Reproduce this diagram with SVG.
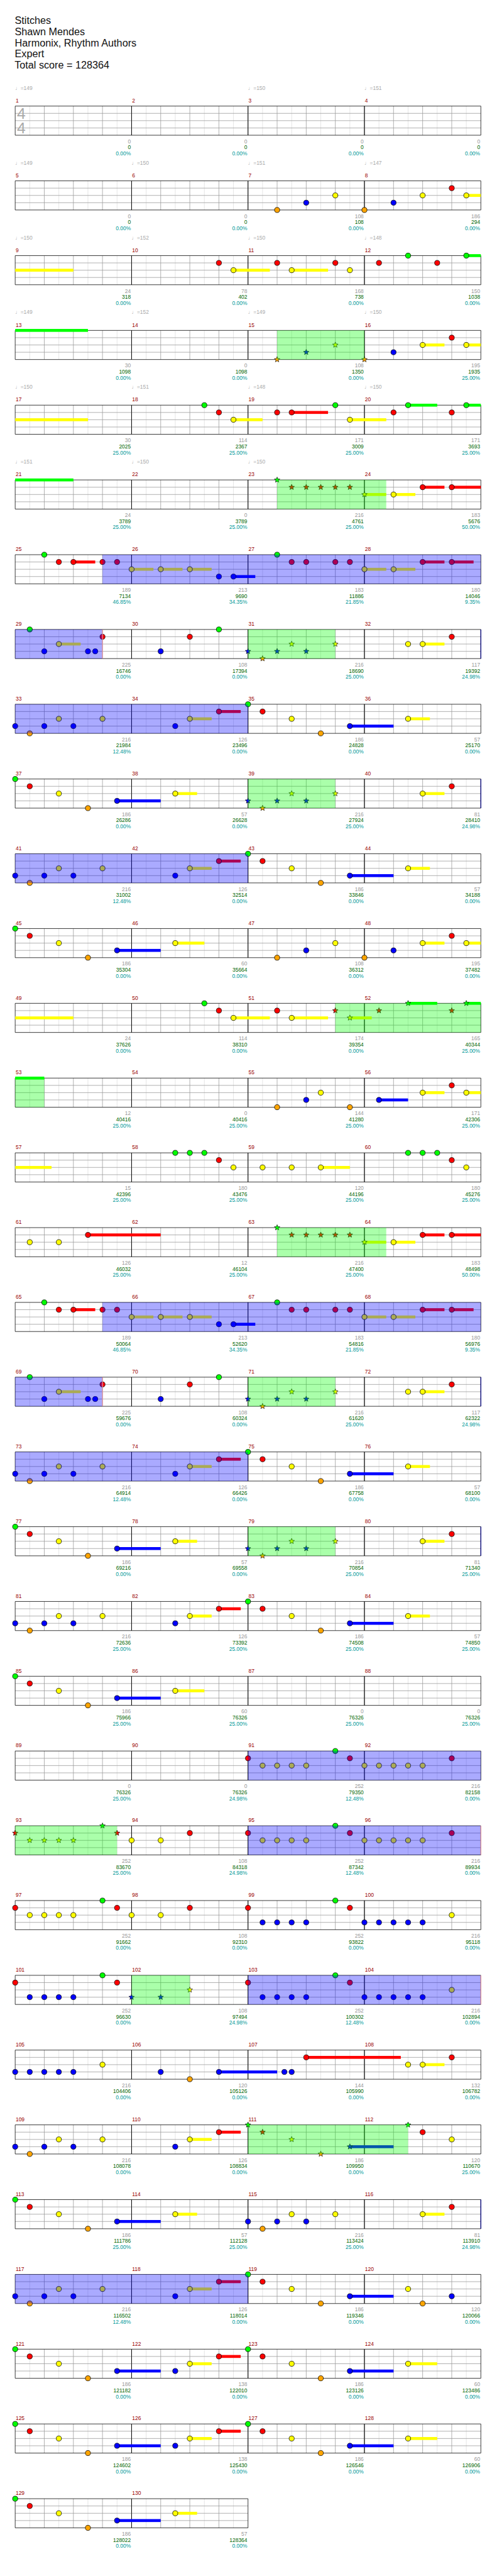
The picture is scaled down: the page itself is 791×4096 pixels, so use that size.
<svg xmlns="http://www.w3.org/2000/svg" xmlns:xlink="http://www.w3.org/1999/xlink" width="791" height="4096" viewBox="0 0 791 4096">
<style>
text{font-family:"Liberation Sans","DejaVu Sans",Arial,sans-serif}
.ti{font-size:21px;fill:#111}
.big{font-size:32px;fill:#aaa}
.tp{font-size:11px;fill:#aaa}
.mn{font-size:11px;fill:#900}
.c1{font-size:11px;fill:#999;text-anchor:end}
.c2{font-size:11px;fill:#060;text-anchor:end}
.c3{font-size:11px;fill:#099;text-anchor:end}
.lt{stroke:#ddd;stroke-width:1;fill:none}
.gr{stroke:#999;stroke-width:1;fill:none}
.bk{stroke:#000;stroke-width:1;fill:none}
.sy{fill:#ff0}.sr{fill:#f00}.sg{fill:#0f0}.sb{fill:#00f}
.so{fill:#00f;fill-opacity:.333}
.sp{fill:#0f0;fill-opacity:.333}
.st{stroke:#008;stroke-width:1.5}
.en{stroke:#e99;stroke-width:1.5}
</style>
<defs>
<circle id="G" r="5.3" fill="#00ff00" stroke="#000" stroke-width="1"/>
<circle id="R" r="5.3" fill="#ff0000" stroke="#000" stroke-width="1"/>
<circle id="Y" r="5.3" fill="#ffff00" stroke="#000" stroke-width="1"/>
<circle id="B" r="5.3" fill="#0000ff" stroke="#000" stroke-width="1"/>
<circle id="O" r="5.3" fill="#ffa500" stroke="#000" stroke-width="1"/>
<polygon id="sG" points="0,-6 1.53,-2.1 5.71,-1.85 2.47,0.8 3.53,4.85 0,2.6 -3.53,4.85 -2.47,0.8 -5.71,-1.85 -1.53,-2.1" fill="#00ff00" stroke="#000" stroke-width=".8"/>
<polygon id="sR" points="0,-6 1.53,-2.1 5.71,-1.85 2.47,0.8 3.53,4.85 0,2.6 -3.53,4.85 -2.47,0.8 -5.71,-1.85 -1.53,-2.1" fill="#ff0000" stroke="#000" stroke-width=".8"/>
<polygon id="sY" points="0,-6 1.53,-2.1 5.71,-1.85 2.47,0.8 3.53,4.85 0,2.6 -3.53,4.85 -2.47,0.8 -5.71,-1.85 -1.53,-2.1" fill="#ffff00" stroke="#000" stroke-width=".8"/>
<polygon id="sB" points="0,-6 1.53,-2.1 5.71,-1.85 2.47,0.8 3.53,4.85 0,2.6 -3.53,4.85 -2.47,0.8 -5.71,-1.85 -1.53,-2.1" fill="#0000ff" stroke="#000" stroke-width=".8"/>
<polygon id="sO" points="0,-6 1.53,-2.1 5.71,-1.85 2.47,0.8 3.53,4.85 0,2.6 -3.53,4.85 -2.47,0.8 -5.71,-1.85 -1.53,-2.1" fill="#ffa500" stroke="#000" stroke-width=".8"/>
<g id="M">
<path class="lt" d="M30 0V60M90 0V60M150 0V60M210 0V60"/>
<path class="gr" d="M0 15H240M0 30H240M0 45H240M60 0V60M120 0V60M180 0V60"/>
<path class="bk" d="M0 0H240M0 60H240M0 0V60M240 0V60"/>
</g>
<g id="M4"><use href="#M"/><use href="#M" x="240"/><use href="#M" x="480"/><use href="#M" x="720"/></g>
<g id="M2"><use href="#M"/><use href="#M" x="240"/></g>
<g id="stars1">
<use href="#sB" x="480" y="45"/><use href="#sO" x="510" y="60"/><use href="#sB" x="540" y="45"/><use href="#sY" x="570" y="30"/><use href="#sB" x="600" y="45"/><use href="#sY" x="660" y="30"/>
</g>
<g id="pA">
<rect class="sr" x="120" y="12" width="45" height="6"/><rect class="sy" x="240" y="27" width="45" height="6"/><rect class="sy" x="300" y="27" width="45" height="6"/><rect class="sy" x="360" y="27" width="45" height="6"/><rect class="sb" x="450" y="42" width="45" height="6"/><rect class="sy" x="720" y="27" width="45" height="6"/><rect class="sy" x="780" y="27" width="45" height="6"/><rect class="sr" x="840" y="12" width="45" height="6"/><rect class="sr" x="900" y="12" width="45" height="6"/>
<use href="#G" x="60" y="0"/><use href="#R" x="90" y="15"/><use href="#R" x="120" y="15"/><use href="#R" x="180" y="15"/><use href="#R" x="210" y="15"/><use href="#Y" x="240" y="30"/><use href="#Y" x="300" y="30"/><use href="#Y" x="360" y="30"/><use href="#B" x="420" y="45"/><use href="#B" x="450" y="45"/><use href="#G" x="540" y="0"/><use href="#R" x="570" y="15"/><use href="#R" x="600" y="15"/><use href="#R" x="660" y="15"/><use href="#R" x="690" y="15"/><use href="#Y" x="720" y="30"/><use href="#Y" x="780" y="30"/><use href="#R" x="840" y="15"/><use href="#R" x="900" y="15"/>
<rect class="so" x="180" y="0" width="780" height="60"/>
</g>
<g id="pB">
<rect class="sy" x="90" y="27" width="45" height="6"/><rect class="sy" x="840" y="27" width="45" height="6"/>
<use href="#G" x="30" y="0"/><use href="#B" x="60" y="45"/><use href="#Y" x="90" y="30"/><use href="#B" x="150" y="45"/><use href="#B" x="165" y="45"/><use href="#R" x="180" y="15"/><use href="#B" x="300" y="45"/><use href="#R" x="360" y="15"/><use href="#G" x="420" y="0"/><use href="#Y" x="810" y="30"/><use href="#Y" x="840" y="30"/><use href="#R" x="900" y="15"/>
<use href="#stars1"/>
<rect class="so" x="0" y="0" width="180" height="60"/><rect class="sp" x="480" y="0" width="180" height="60"/>
<path class="en" d="M180 0V60"/><path class="st" d="M960 0V60"/>
</g>
<g id="pCn">
<rect class="sy" x="360" y="27" width="45" height="6"/><rect class="sr" x="420" y="12" width="45" height="6"/><rect class="sb" x="690" y="42" width="90" height="6"/><rect class="sy" x="810" y="27" width="45" height="6"/>
<use href="#B" x="0" y="45"/><use href="#O" x="30" y="60"/><use href="#B" x="60" y="45"/><use href="#Y" x="90" y="30"/><use href="#B" x="120" y="45"/><use href="#Y" x="180" y="30"/><use href="#B" x="330" y="45"/><use href="#Y" x="360" y="30"/><use href="#R" x="420" y="15"/><use href="#G" x="480" y="0"/><use href="#R" x="510" y="15"/><use href="#Y" x="570" y="30"/><use href="#O" x="630" y="60"/><use href="#B" x="690" y="45"/><use href="#Y" x="810" y="30"/>
</g>
<g id="pC"><use href="#pCn"/><rect class="so" x="0" y="0" width="480" height="60"/></g>
<g id="pD">
<rect class="sb" x="210" y="42" width="90" height="6"/><rect class="sy" x="330" y="27" width="45" height="6"/><rect class="sy" x="840" y="27" width="45" height="6"/>
<use href="#G" x="0" y="0"/><use href="#R" x="30" y="15"/><use href="#Y" x="90" y="30"/><use href="#O" x="150" y="60"/><use href="#B" x="210" y="45"/><use href="#Y" x="330" y="30"/><use href="#Y" x="840" y="30"/><use href="#R" x="900" y="15"/>
<use href="#stars1"/>
<rect class="sp" x="480" y="0" width="180" height="60"/>
<path class="st" d="M960 0V60"/>
</g>
<g id="pE">
<use href="#R" x="480" y="15"/><use href="#Y" x="510" y="30"/><use href="#Y" x="540" y="30"/><use href="#Y" x="570" y="30"/><use href="#Y" x="600" y="30"/><use href="#G" x="660" y="0"/><use href="#R" x="690" y="15"/><use href="#Y" x="720" y="30"/><use href="#Y" x="750" y="30"/><use href="#Y" x="780" y="30"/><use href="#Y" x="810" y="30"/><use href="#Y" x="840" y="30"/><use href="#R" x="900" y="15"/>
<rect class="so" x="480" y="0" width="480" height="60"/>
</g>
<g id="pF">
<use href="#R" x="480" y="15"/><use href="#B" x="510" y="45"/><use href="#B" x="540" y="45"/><use href="#B" x="570" y="45"/><use href="#B" x="600" y="45"/><use href="#G" x="660" y="0"/><use href="#R" x="690" y="15"/><use href="#B" x="720" y="45"/><use href="#B" x="750" y="45"/><use href="#B" x="780" y="45"/><use href="#B" x="810" y="45"/><use href="#B" x="840" y="45"/><use href="#Y" x="900" y="30"/>
</g>
<g id="pI">
<rect class="sb" x="210" y="42" width="90" height="6"/>
<use href="#G" x="0" y="0"/><use href="#R" x="30" y="15"/><use href="#Y" x="90" y="30"/><use href="#O" x="150" y="60"/><use href="#B" x="210" y="45"/>
</g>
<g id="pG">
<use href="#pI"/>
<rect class="sy" x="360" y="27" width="45" height="6"/><rect class="sr" x="420" y="12" width="45" height="6"/><rect class="sb" x="690" y="42" width="90" height="6"/><rect class="sy" x="810" y="27" width="60" height="6"/>
<use href="#B" x="330" y="45"/><use href="#Y" x="360" y="30"/><use href="#R" x="420" y="15"/><use href="#G" x="480" y="0"/><use href="#R" x="510" y="15"/><use href="#Y" x="570" y="30"/><use href="#O" x="630" y="60"/><use href="#B" x="690" y="45"/><use href="#Y" x="810" y="30"/>
</g>
</defs>
<g transform="scale(0.772)">
<g id="title">
<text class="ti" x="30.5" y="49.5">Stitches</text>
<text class="ti" x="30.5" y="72.5">Shawn Mendes</text>
<text class="ti" x="30.5" y="95.5">Harmonix, Rhythm Authors</text>
<text class="ti" x="30.5" y="118.5">Expert</text>
<text class="ti" x="30" y="141.5">Total score = 128364</text>
</g>
<g id="chart" transform="translate(31.3,218.5)">

<g id="row-1">
<use href="#M4"/>
<text class="big" x="3.7" y="26.5">4</text><text class="big" x="3.7" y="56.5">4</text>
<text class="tp" x="0" y="-33.5">♩=149</text><text class="tp" x="480" y="-33.5">♩=150</text><text class="tp" x="720" y="-33.5">♩=151</text>
<text class="mn" x="1" y="-7.5">1</text><text class="mn" x="241" y="-7.5">2</text><text class="mn" x="481" y="-7.5">3</text><text class="mn" x="721" y="-7.5">4</text>
<text class="c1" x="238.5" y="76.5">0</text><text class="c2" x="238.5" y="89">0</text><text class="c3" x="238.5" y="101.5">0.00%</text>
<text class="c1" x="478.5" y="76.5">0</text><text class="c2" x="478.5" y="89">0</text><text class="c3" x="478.5" y="101.5">0.00%</text>
<text class="c1" x="718.5" y="76.5">0</text><text class="c2" x="718.5" y="89">0</text><text class="c3" x="718.5" y="101.5">0.00%</text>
<text class="c1" x="958.5" y="76.5">0</text><text class="c2" x="958.5" y="89">0</text><text class="c3" x="958.5" y="101.5">0.00%</text>
</g>

<g id="row-2" transform="translate(0,154)">
<use href="#M4"/>
<rect class="sy" x="930" y="27" width="30" height="6"/>
<use href="#O" x="540" y="60"/><use href="#B" x="600" y="45"/><use href="#Y" x="660" y="30"/><use href="#O" x="720" y="60"/><use href="#B" x="780" y="45"/><use href="#Y" x="840" y="30"/><use href="#R" x="900" y="15"/><use href="#Y" x="930" y="30"/>
<text class="tp" x="0" y="-33.5">♩=149</text><text class="tp" x="240" y="-33.5">♩=150</text><text class="tp" x="480" y="-33.5">♩=151</text><text class="tp" x="720" y="-33.5">♩=147</text>
<text class="mn" x="1" y="-7.5">5</text><text class="mn" x="241" y="-7.5">6</text><text class="mn" x="481" y="-7.5">7</text><text class="mn" x="721" y="-7.5">8</text>
<text class="c1" x="238.5" y="76.5">0</text><text class="c2" x="238.5" y="89">0</text><text class="c3" x="238.5" y="101.5">0.00%</text>
<text class="c1" x="478.5" y="76.5">0</text><text class="c2" x="478.5" y="89">0</text><text class="c3" x="478.5" y="101.5">0.00%</text>
<text class="c1" x="718.5" y="76.5">108</text><text class="c2" x="718.5" y="89">108</text><text class="c3" x="718.5" y="101.5">0.00%</text>
<text class="c1" x="958.5" y="76.5">186</text><text class="c2" x="958.5" y="89">294</text><text class="c3" x="958.5" y="101.5">0.00%</text>
</g>

<g id="row-3" transform="translate(0,308)">
<use href="#M4"/>
<rect class="sy" x="0" y="27" width="120" height="6"/><rect class="sy" x="450" y="27" width="75" height="6"/><rect class="sy" x="570" y="27" width="75" height="6"/><rect class="sg" x="930" y="-3" width="30" height="6"/>
<use href="#R" x="420" y="15"/><use href="#Y" x="450" y="30"/><use href="#R" x="540" y="15"/><use href="#Y" x="570" y="30"/><use href="#R" x="660" y="15"/><use href="#Y" x="690" y="30"/><use href="#R" x="750" y="15"/><use href="#G" x="810" y="0"/><use href="#R" x="870" y="15"/><use href="#G" x="930" y="0"/>
<text class="tp" x="0" y="-33.5">♩=150</text><text class="tp" x="240" y="-33.5">♩=152</text><text class="tp" x="480" y="-33.5">♩=150</text><text class="tp" x="720" y="-33.5">♩=148</text>
<text class="mn" x="1" y="-7.5">9</text><text class="mn" x="241" y="-7.5">10</text><text class="mn" x="481" y="-7.5">11</text><text class="mn" x="721" y="-7.5">12</text>
<text class="c1" x="238.5" y="76.5">24</text><text class="c2" x="238.5" y="89">318</text><text class="c3" x="238.5" y="101.5">0.00%</text>
<text class="c1" x="478.5" y="76.5">78</text><text class="c2" x="478.5" y="89">402</text><text class="c3" x="478.5" y="101.5">0.00%</text>
<text class="c1" x="718.5" y="76.5">168</text><text class="c2" x="718.5" y="89">738</text><text class="c3" x="718.5" y="101.5">0.00%</text>
<text class="c1" x="958.5" y="76.5">150</text><text class="c2" x="958.5" y="89">1038</text><text class="c3" x="958.5" y="101.5">0.00%</text>
</g>

<g id="row-4" transform="translate(0,462)">
<use href="#M4"/>
<rect class="sg" x="0" y="-3" width="150" height="6"/><rect class="sy" x="840" y="27" width="45" height="6"/><rect class="sy" x="930" y="27" width="30" height="6"/>
<use href="#sO" x="540" y="60"/><use href="#sB" x="600" y="45"/><use href="#sY" x="660" y="30"/><use href="#sO" x="720" y="60"/>
<use href="#B" x="780" y="45"/><use href="#Y" x="840" y="30"/><use href="#R" x="900" y="15"/><use href="#Y" x="930" y="30"/>
<rect class="sp" x="540" y="0" width="180" height="60"/>
<text class="tp" x="0" y="-33.5">♩=149</text><text class="tp" x="240" y="-33.5">♩=152</text><text class="tp" x="480" y="-33.5">♩=149</text><text class="tp" x="720" y="-33.5">♩=150</text>
<text class="mn" x="1" y="-7.5">13</text><text class="mn" x="241" y="-7.5">14</text><text class="mn" x="481" y="-7.5">15</text><text class="mn" x="721" y="-7.5">16</text>
<text class="c1" x="238.5" y="76.5">30</text><text class="c2" x="238.5" y="89">1098</text><text class="c3" x="238.5" y="101.5">0.00%</text>
<text class="c1" x="478.5" y="76.5">0</text><text class="c2" x="478.5" y="89">1098</text><text class="c3" x="478.5" y="101.5">0.00%</text>
<text class="c1" x="718.5" y="76.5">108</text><text class="c2" x="718.5" y="89">1350</text><text class="c3" x="718.5" y="101.5">0.00%</text>
<text class="c1" x="958.5" y="76.5">195</text><text class="c2" x="958.5" y="89">1935</text><text class="c3" x="958.5" y="101.5">25.00%</text>
</g>

<g id="row-5" transform="translate(0,616)">
<use href="#M4"/>
<rect class="sy" x="0" y="27" width="150" height="6"/><rect class="sy" x="450" y="27" width="60" height="6"/><rect class="sr" x="570" y="12" width="75" height="6"/><rect class="sy" x="690" y="27" width="75" height="6"/><rect class="sg" x="810" y="-3" width="60" height="6"/><rect class="sg" x="930" y="-3" width="30" height="6"/>
<use href="#G" x="390" y="0"/><use href="#R" x="420" y="15"/><use href="#Y" x="450" y="30"/><use href="#R" x="540" y="15"/><use href="#R" x="570" y="15"/><use href="#G" x="660" y="0"/><use href="#Y" x="690" y="30"/><use href="#R" x="780" y="15"/><use href="#G" x="810" y="0"/><use href="#R" x="900" y="15"/><use href="#G" x="930" y="0"/>
<text class="tp" x="0" y="-33.5">♩=150</text><text class="tp" x="240" y="-33.5">♩=151</text><text class="tp" x="480" y="-33.5">♩=148</text><text class="tp" x="720" y="-33.5">♩=150</text>
<text class="mn" x="1" y="-7.5">17</text><text class="mn" x="241" y="-7.5">18</text><text class="mn" x="481" y="-7.5">19</text><text class="mn" x="721" y="-7.5">20</text>
<text class="c1" x="238.5" y="76.5">30</text><text class="c2" x="238.5" y="89">2025</text><text class="c3" x="238.5" y="101.5">25.00%</text>
<text class="c1" x="478.5" y="76.5">114</text><text class="c2" x="478.5" y="89">2367</text><text class="c3" x="478.5" y="101.5">25.00%</text>
<text class="c1" x="718.5" y="76.5">171</text><text class="c2" x="718.5" y="89">3009</text><text class="c3" x="718.5" y="101.5">25.00%</text>
<text class="c1" x="958.5" y="76.5">171</text><text class="c2" x="958.5" y="89">3693</text><text class="c3" x="958.5" y="101.5">25.00%</text>
</g>

<g id="row-6" transform="translate(0,770)">
<use href="#M4"/>
<rect class="sg" x="0" y="-3" width="120" height="6"/><rect class="sy" x="720" y="27" width="45" height="6"/><rect class="sy" x="780" y="27" width="45" height="6"/><rect class="sr" x="840" y="12" width="45" height="6"/><rect class="sr" x="900" y="12" width="60" height="6"/>
<use href="#sG" x="540" y="0"/><use href="#sR" x="570" y="15"/><use href="#sR" x="600" y="15"/><use href="#sR" x="630" y="15"/><use href="#sR" x="660" y="15"/><use href="#sR" x="690" y="15"/><use href="#sY" x="720" y="30"/>
<use href="#Y" x="780" y="30"/><use href="#R" x="840" y="15"/><use href="#R" x="900" y="15"/>
<rect class="sp" x="540" y="0" width="225" height="60"/>
<text class="tp" x="0" y="-33.5">♩=151</text><text class="tp" x="240" y="-33.5">♩=150</text><text class="tp" x="480" y="-33.5">♩=150</text>
<text class="mn" x="1" y="-7.5">21</text><text class="mn" x="241" y="-7.5">22</text><text class="mn" x="481" y="-7.5">23</text><text class="mn" x="721" y="-7.5">24</text>
<text class="c1" x="238.5" y="76.5">24</text><text class="c2" x="238.5" y="89">3789</text><text class="c3" x="238.5" y="101.5">25.00%</text>
<text class="c1" x="478.5" y="76.5">0</text><text class="c2" x="478.5" y="89">3789</text><text class="c3" x="478.5" y="101.5">25.00%</text>
<text class="c1" x="718.5" y="76.5">216</text><text class="c2" x="718.5" y="89">4761</text><text class="c3" x="718.5" y="101.5">25.00%</text>
<text class="c1" x="958.5" y="76.5">183</text><text class="c2" x="958.5" y="89">5676</text><text class="c3" x="958.5" y="101.5">50.00%</text>
</g>

<g id="row-7" transform="translate(0,924)">
<use href="#M4"/><use href="#pA"/>
<text class="mn" x="1" y="-7.5">25</text><text class="mn" x="241" y="-7.5">26</text><text class="mn" x="481" y="-7.5">27</text><text class="mn" x="721" y="-7.5">28</text>
<text class="c1" x="238.5" y="76.5">189</text><text class="c2" x="238.5" y="89">7134</text><text class="c3" x="238.5" y="101.5">46.85%</text>
<text class="c1" x="478.5" y="76.5">213</text><text class="c2" x="478.5" y="89">9690</text><text class="c3" x="478.5" y="101.5">34.35%</text>
<text class="c1" x="718.5" y="76.5">183</text><text class="c2" x="718.5" y="89">11886</text><text class="c3" x="718.5" y="101.5">21.85%</text>
<text class="c1" x="958.5" y="76.5">180</text><text class="c2" x="958.5" y="89">14046</text><text class="c3" x="958.5" y="101.5">9.35%</text>
</g>

<g id="row-8" transform="translate(0,1078)">
<use href="#M4"/><use href="#pB"/>
<text class="mn" x="1" y="-7.5">29</text><text class="mn" x="241" y="-7.5">30</text><text class="mn" x="481" y="-7.5">31</text><text class="mn" x="721" y="-7.5">32</text>
<text class="c1" x="238.5" y="76.5">225</text><text class="c2" x="238.5" y="89">16746</text><text class="c3" x="238.5" y="101.5">0.00%</text>
<text class="c1" x="478.5" y="76.5">108</text><text class="c2" x="478.5" y="89">17394</text><text class="c3" x="478.5" y="101.5">0.00%</text>
<text class="c1" x="718.5" y="76.5">216</text><text class="c2" x="718.5" y="89">18690</text><text class="c3" x="718.5" y="101.5">25.00%</text>
<text class="c1" x="958.5" y="76.5">117</text><text class="c2" x="958.5" y="89">19392</text><text class="c3" x="958.5" y="101.5">24.98%</text>
</g>

<g id="row-9" transform="translate(0,1232)">
<use href="#M4"/><use href="#pC"/>
<text class="mn" x="1" y="-7.5">33</text><text class="mn" x="241" y="-7.5">34</text><text class="mn" x="481" y="-7.5">35</text><text class="mn" x="721" y="-7.5">36</text>
<text class="c1" x="238.5" y="76.5">216</text><text class="c2" x="238.5" y="89">21984</text><text class="c3" x="238.5" y="101.5">12.48%</text>
<text class="c1" x="478.5" y="76.5">126</text><text class="c2" x="478.5" y="89">23496</text><text class="c3" x="478.5" y="101.5">0.00%</text>
<text class="c1" x="718.5" y="76.5">186</text><text class="c2" x="718.5" y="89">24828</text><text class="c3" x="718.5" y="101.5">0.00%</text>
<text class="c1" x="958.5" y="76.5">57</text><text class="c2" x="958.5" y="89">25170</text><text class="c3" x="958.5" y="101.5">0.00%</text>
</g>

<g id="row-10" transform="translate(0,1386)">
<use href="#M4"/><use href="#pD"/>
<text class="mn" x="1" y="-7.5">37</text><text class="mn" x="241" y="-7.5">38</text><text class="mn" x="481" y="-7.5">39</text><text class="mn" x="721" y="-7.5">40</text>
<text class="c1" x="238.5" y="76.5">186</text><text class="c2" x="238.5" y="89">26286</text><text class="c3" x="238.5" y="101.5">0.00%</text>
<text class="c1" x="478.5" y="76.5">57</text><text class="c2" x="478.5" y="89">26628</text><text class="c3" x="478.5" y="101.5">0.00%</text>
<text class="c1" x="718.5" y="76.5">216</text><text class="c2" x="718.5" y="89">27924</text><text class="c3" x="718.5" y="101.5">25.00%</text>
<text class="c1" x="958.5" y="76.5">81</text><text class="c2" x="958.5" y="89">28410</text><text class="c3" x="958.5" y="101.5">24.98%</text>
</g>

<g id="row-11" transform="translate(0,1540)">
<use href="#M4"/><use href="#pC"/>
<text class="mn" x="1" y="-7.5">41</text><text class="mn" x="241" y="-7.5">42</text><text class="mn" x="481" y="-7.5">43</text><text class="mn" x="721" y="-7.5">44</text>
<text class="c1" x="238.5" y="76.5">216</text><text class="c2" x="238.5" y="89">31002</text><text class="c3" x="238.5" y="101.5">12.48%</text>
<text class="c1" x="478.5" y="76.5">126</text><text class="c2" x="478.5" y="89">32514</text><text class="c3" x="478.5" y="101.5">0.00%</text>
<text class="c1" x="718.5" y="76.5">186</text><text class="c2" x="718.5" y="89">33846</text><text class="c3" x="718.5" y="101.5">0.00%</text>
<text class="c1" x="958.5" y="76.5">57</text><text class="c2" x="958.5" y="89">34188</text><text class="c3" x="958.5" y="101.5">0.00%</text>
</g>

<g id="row-12" transform="translate(0,1694)">
<use href="#M4"/><use href="#pI"/>
<rect class="sy" x="330" y="27" width="60" height="6"/><rect class="sy" x="840" y="27" width="45" height="6"/><rect class="sy" x="930" y="27" width="30" height="6"/>
<use href="#Y" x="330" y="30"/><use href="#O" x="540" y="60"/><use href="#B" x="600" y="45"/><use href="#Y" x="660" y="30"/><use href="#O" x="720" y="60"/><use href="#B" x="780" y="45"/><use href="#Y" x="840" y="30"/><use href="#R" x="900" y="15"/><use href="#Y" x="930" y="30"/>
<text class="mn" x="1" y="-7.5">45</text><text class="mn" x="241" y="-7.5">46</text><text class="mn" x="481" y="-7.5">47</text><text class="mn" x="721" y="-7.5">48</text>
<text class="c1" x="238.5" y="76.5">186</text><text class="c2" x="238.5" y="89">35304</text><text class="c3" x="238.5" y="101.5">0.00%</text>
<text class="c1" x="478.5" y="76.5">60</text><text class="c2" x="478.5" y="89">35664</text><text class="c3" x="478.5" y="101.5">0.00%</text>
<text class="c1" x="718.5" y="76.5">108</text><text class="c2" x="718.5" y="89">36312</text><text class="c3" x="718.5" y="101.5">0.00%</text>
<text class="c1" x="958.5" y="76.5">195</text><text class="c2" x="958.5" y="89">37482</text><text class="c3" x="958.5" y="101.5">0.00%</text>
</g>

<g id="row-13" transform="translate(0,1848)">
<use href="#M4"/>
<rect class="sy" x="0" y="27" width="120" height="6"/><rect class="sy" x="450" y="27" width="75" height="6"/><rect class="sy" x="570" y="27" width="75" height="6"/><rect class="sy" x="690" y="27" width="45" height="6"/><rect class="sg" x="810" y="-3" width="60" height="6"/><rect class="sg" x="930" y="-3" width="30" height="6"/>
<use href="#G" x="390" y="0"/><use href="#R" x="420" y="15"/><use href="#Y" x="450" y="30"/><use href="#R" x="540" y="15"/><use href="#Y" x="570" y="30"/>
<use href="#sR" x="660" y="15"/><use href="#sY" x="690" y="30"/><use href="#sR" x="750" y="15"/><use href="#sG" x="810" y="0"/><use href="#sR" x="900" y="15"/><use href="#sG" x="930" y="0"/>
<rect class="sp" x="660" y="0" width="300" height="60"/>
<text class="mn" x="1" y="-7.5">49</text><text class="mn" x="241" y="-7.5">50</text><text class="mn" x="481" y="-7.5">51</text><text class="mn" x="721" y="-7.5">52</text>
<text class="c1" x="238.5" y="76.5">24</text><text class="c2" x="238.5" y="89">37626</text><text class="c3" x="238.5" y="101.5">0.00%</text>
<text class="c1" x="478.5" y="76.5">114</text><text class="c2" x="478.5" y="89">38310</text><text class="c3" x="478.5" y="101.5">0.00%</text>
<text class="c1" x="718.5" y="76.5">174</text><text class="c2" x="718.5" y="89">39354</text><text class="c3" x="718.5" y="101.5">0.00%</text>
<text class="c1" x="958.5" y="76.5">165</text><text class="c2" x="958.5" y="89">40344</text><text class="c3" x="958.5" y="101.5">25.00%</text>
</g>

<g id="row-14" transform="translate(0,2002)">
<use href="#M4"/>
<rect class="sg" x="0" y="-3" width="60" height="6"/><rect class="sb" x="750" y="42" width="60" height="6"/><rect class="sy" x="840" y="27" width="45" height="6"/><rect class="sy" x="930" y="27" width="30" height="6"/>
<use href="#O" x="540" y="60"/><use href="#B" x="600" y="45"/><use href="#Y" x="630" y="30"/><use href="#O" x="690" y="60"/><use href="#B" x="750" y="45"/><use href="#Y" x="840" y="30"/><use href="#R" x="900" y="15"/><use href="#Y" x="930" y="30"/>
<rect class="sp" x="0" y="0" width="60" height="60"/>
<text class="mn" x="1" y="-7.5">53</text><text class="mn" x="241" y="-7.5">54</text><text class="mn" x="481" y="-7.5">55</text><text class="mn" x="721" y="-7.5">56</text>
<text class="c1" x="238.5" y="76.5">12</text><text class="c2" x="238.5" y="89">40416</text><text class="c3" x="238.5" y="101.5">25.00%</text>
<text class="c1" x="478.5" y="76.5">0</text><text class="c2" x="478.5" y="89">40416</text><text class="c3" x="478.5" y="101.5">25.00%</text>
<text class="c1" x="718.5" y="76.5">144</text><text class="c2" x="718.5" y="89">41280</text><text class="c3" x="718.5" y="101.5">25.00%</text>
<text class="c1" x="958.5" y="76.5">171</text><text class="c2" x="958.5" y="89">42306</text><text class="c3" x="958.5" y="101.5">25.00%</text>
</g>

<g id="row-15" transform="translate(0,2156)">
<use href="#M4"/>
<rect class="sy" x="0" y="27" width="75" height="6"/><rect class="sy" x="630" y="27" width="60" height="6"/>
<use href="#G" x="330" y="0"/><use href="#G" x="360" y="0"/><use href="#G" x="390" y="0"/><use href="#R" x="420" y="15"/><use href="#Y" x="450" y="30"/><use href="#Y" x="510" y="30"/><use href="#Y" x="570" y="30"/><use href="#Y" x="630" y="30"/><use href="#G" x="810" y="0"/><use href="#G" x="840" y="0"/><use href="#G" x="870" y="0"/><use href="#R" x="900" y="15"/><use href="#Y" x="930" y="30"/>
<text class="mn" x="1" y="-7.5">57</text><text class="mn" x="241" y="-7.5">58</text><text class="mn" x="481" y="-7.5">59</text><text class="mn" x="721" y="-7.5">60</text>
<text class="c1" x="238.5" y="76.5">15</text><text class="c2" x="238.5" y="89">42396</text><text class="c3" x="238.5" y="101.5">25.00%</text>
<text class="c1" x="478.5" y="76.5">180</text><text class="c2" x="478.5" y="89">43476</text><text class="c3" x="478.5" y="101.5">25.00%</text>
<text class="c1" x="718.5" y="76.5">120</text><text class="c2" x="718.5" y="89">44196</text><text class="c3" x="718.5" y="101.5">25.00%</text>
<text class="c1" x="958.5" y="76.5">180</text><text class="c2" x="958.5" y="89">45276</text><text class="c3" x="958.5" y="101.5">25.00%</text>
</g>

<g id="row-16" transform="translate(0,2310)">
<use href="#M4"/>
<rect class="sr" x="150" y="12" width="150" height="6"/><rect class="sy" x="720" y="27" width="45" height="6"/><rect class="sy" x="780" y="27" width="45" height="6"/><rect class="sr" x="840" y="12" width="45" height="6"/><rect class="sr" x="900" y="12" width="60" height="6"/>
<use href="#Y" x="30" y="30"/><use href="#Y" x="90" y="30"/><use href="#R" x="150" y="15"/>
<use href="#sG" x="540" y="0"/><use href="#sR" x="570" y="15"/><use href="#sR" x="600" y="15"/><use href="#sR" x="630" y="15"/><use href="#sR" x="660" y="15"/><use href="#sR" x="690" y="15"/><use href="#sY" x="720" y="30"/>
<use href="#Y" x="780" y="30"/><use href="#R" x="840" y="15"/><use href="#R" x="900" y="15"/>
<rect class="sp" x="540" y="0" width="225" height="60"/>
<text class="mn" x="1" y="-7.5">61</text><text class="mn" x="241" y="-7.5">62</text><text class="mn" x="481" y="-7.5">63</text><text class="mn" x="721" y="-7.5">64</text>
<text class="c1" x="238.5" y="76.5">126</text><text class="c2" x="238.5" y="89">46032</text><text class="c3" x="238.5" y="101.5">25.00%</text>
<text class="c1" x="478.5" y="76.5">12</text><text class="c2" x="478.5" y="89">46104</text><text class="c3" x="478.5" y="101.5">25.00%</text>
<text class="c1" x="718.5" y="76.5">216</text><text class="c2" x="718.5" y="89">47400</text><text class="c3" x="718.5" y="101.5">25.00%</text>
<text class="c1" x="958.5" y="76.5">183</text><text class="c2" x="958.5" y="89">48498</text><text class="c3" x="958.5" y="101.5">50.00%</text>
</g>

<g id="row-17" transform="translate(0,2464)">
<use href="#M4"/><use href="#pA"/>
<text class="mn" x="1" y="-7.5">65</text><text class="mn" x="241" y="-7.5">66</text><text class="mn" x="481" y="-7.5">67</text><text class="mn" x="721" y="-7.5">68</text>
<text class="c1" x="238.5" y="76.5">189</text><text class="c2" x="238.5" y="89">50064</text><text class="c3" x="238.5" y="101.5">46.85%</text>
<text class="c1" x="478.5" y="76.5">213</text><text class="c2" x="478.5" y="89">52620</text><text class="c3" x="478.5" y="101.5">34.35%</text>
<text class="c1" x="718.5" y="76.5">183</text><text class="c2" x="718.5" y="89">54816</text><text class="c3" x="718.5" y="101.5">21.85%</text>
<text class="c1" x="958.5" y="76.5">180</text><text class="c2" x="958.5" y="89">56976</text><text class="c3" x="958.5" y="101.5">9.35%</text>
</g>

<g id="row-18" transform="translate(0,2618)">
<use href="#M4"/><use href="#pB"/>
<text class="mn" x="1" y="-7.5">69</text><text class="mn" x="241" y="-7.5">70</text><text class="mn" x="481" y="-7.5">71</text><text class="mn" x="721" y="-7.5">72</text>
<text class="c1" x="238.5" y="76.5">225</text><text class="c2" x="238.5" y="89">59676</text><text class="c3" x="238.5" y="101.5">0.00%</text>
<text class="c1" x="478.5" y="76.5">108</text><text class="c2" x="478.5" y="89">60324</text><text class="c3" x="478.5" y="101.5">0.00%</text>
<text class="c1" x="718.5" y="76.5">216</text><text class="c2" x="718.5" y="89">61620</text><text class="c3" x="718.5" y="101.5">25.00%</text>
<text class="c1" x="958.5" y="76.5">117</text><text class="c2" x="958.5" y="89">62322</text><text class="c3" x="958.5" y="101.5">24.98%</text>
</g>

<g id="row-19" transform="translate(0,2772)">
<use href="#M4"/><use href="#pC"/>
<text class="mn" x="1" y="-7.5">73</text><text class="mn" x="241" y="-7.5">74</text><text class="mn" x="481" y="-7.5">75</text><text class="mn" x="721" y="-7.5">76</text>
<text class="c1" x="238.5" y="76.5">216</text><text class="c2" x="238.5" y="89">64914</text><text class="c3" x="238.5" y="101.5">12.48%</text>
<text class="c1" x="478.5" y="76.5">126</text><text class="c2" x="478.5" y="89">66426</text><text class="c3" x="478.5" y="101.5">0.00%</text>
<text class="c1" x="718.5" y="76.5">186</text><text class="c2" x="718.5" y="89">67758</text><text class="c3" x="718.5" y="101.5">0.00%</text>
<text class="c1" x="958.5" y="76.5">57</text><text class="c2" x="958.5" y="89">68100</text><text class="c3" x="958.5" y="101.5">0.00%</text>
</g>

<g id="row-20" transform="translate(0,2926)">
<use href="#M4"/><use href="#pD"/>
<text class="mn" x="1" y="-7.5">77</text><text class="mn" x="241" y="-7.5">78</text><text class="mn" x="481" y="-7.5">79</text><text class="mn" x="721" y="-7.5">80</text>
<text class="c1" x="238.5" y="76.5">186</text><text class="c2" x="238.5" y="89">69216</text><text class="c3" x="238.5" y="101.5">0.00%</text>
<text class="c1" x="478.5" y="76.5">57</text><text class="c2" x="478.5" y="89">69558</text><text class="c3" x="478.5" y="101.5">0.00%</text>
<text class="c1" x="718.5" y="76.5">216</text><text class="c2" x="718.5" y="89">70854</text><text class="c3" x="718.5" y="101.5">25.00%</text>
<text class="c1" x="958.5" y="76.5">81</text><text class="c2" x="958.5" y="89">71340</text><text class="c3" x="958.5" y="101.5">25.00%</text>
</g>

<g id="row-21" transform="translate(0,3080)">
<use href="#M4"/><use href="#pCn"/>
<text class="mn" x="1" y="-7.5">81</text><text class="mn" x="241" y="-7.5">82</text><text class="mn" x="481" y="-7.5">83</text><text class="mn" x="721" y="-7.5">84</text>
<text class="c1" x="238.5" y="76.5">216</text><text class="c2" x="238.5" y="89">72636</text><text class="c3" x="238.5" y="101.5">25.00%</text>
<text class="c1" x="478.5" y="76.5">126</text><text class="c2" x="478.5" y="89">73392</text><text class="c3" x="478.5" y="101.5">25.00%</text>
<text class="c1" x="718.5" y="76.5">186</text><text class="c2" x="718.5" y="89">74508</text><text class="c3" x="718.5" y="101.5">25.00%</text>
<text class="c1" x="958.5" y="76.5">57</text><text class="c2" x="958.5" y="89">74850</text><text class="c3" x="958.5" y="101.5">25.00%</text>
</g>

<g id="row-22" transform="translate(0,3234)">
<use href="#M4"/><use href="#pI"/>
<rect class="sy" x="330" y="27" width="60" height="6"/><use href="#Y" x="330" y="30"/>
<text class="mn" x="1" y="-7.5">85</text><text class="mn" x="241" y="-7.5">86</text><text class="mn" x="481" y="-7.5">87</text><text class="mn" x="721" y="-7.5">88</text>
<text class="c1" x="238.5" y="76.5">186</text><text class="c2" x="238.5" y="89">75966</text><text class="c3" x="238.5" y="101.5">25.00%</text>
<text class="c1" x="478.5" y="76.5">60</text><text class="c2" x="478.5" y="89">76326</text><text class="c3" x="478.5" y="101.5">25.00%</text>
<text class="c1" x="718.5" y="76.5">0</text><text class="c2" x="718.5" y="89">76326</text><text class="c3" x="718.5" y="101.5">25.00%</text>
<text class="c1" x="958.5" y="76.5">0</text><text class="c2" x="958.5" y="89">76326</text><text class="c3" x="958.5" y="101.5">25.00%</text>
</g>

<g id="row-23" transform="translate(0,3388)">
<use href="#M4"/><use href="#pE"/>
<text class="mn" x="1" y="-7.5">89</text><text class="mn" x="241" y="-7.5">90</text><text class="mn" x="481" y="-7.5">91</text><text class="mn" x="721" y="-7.5">92</text>
<text class="c1" x="238.5" y="76.5">0</text><text class="c2" x="238.5" y="89">76326</text><text class="c3" x="238.5" y="101.5">25.00%</text>
<text class="c1" x="478.5" y="76.5">0</text><text class="c2" x="478.5" y="89">76326</text><text class="c3" x="478.5" y="101.5">24.98%</text>
<text class="c1" x="718.5" y="76.5">252</text><text class="c2" x="718.5" y="89">79350</text><text class="c3" x="718.5" y="101.5">12.48%</text>
<text class="c1" x="958.5" y="76.5">216</text><text class="c2" x="958.5" y="89">82158</text><text class="c3" x="958.5" y="101.5">0.00%</text>
</g>

<g id="row-24" transform="translate(0,3542)">
<use href="#M4"/>
<use href="#sR" x="0" y="15"/><use href="#sY" x="30" y="30"/><use href="#sY" x="60" y="30"/><use href="#sY" x="90" y="30"/><use href="#sY" x="120" y="30"/><use href="#sG" x="180" y="0"/><use href="#sR" x="210" y="15"/>
<use href="#Y" x="240" y="30"/><use href="#Y" x="300" y="30"/><use href="#R" x="360" y="15"/>
<rect class="sp" x="0" y="0" width="210" height="60"/>
<use href="#pE"/><path class="en" d="M960 0V60"/>
<text class="mn" x="1" y="-7.5">93</text><text class="mn" x="241" y="-7.5">94</text><text class="mn" x="481" y="-7.5">95</text><text class="mn" x="721" y="-7.5">96</text>
<text class="c1" x="238.5" y="76.5">252</text><text class="c2" x="238.5" y="89">83670</text><text class="c3" x="238.5" y="101.5">25.00%</text>
<text class="c1" x="478.5" y="76.5">108</text><text class="c2" x="478.5" y="89">84318</text><text class="c3" x="478.5" y="101.5">24.98%</text>
<text class="c1" x="718.5" y="76.5">252</text><text class="c2" x="718.5" y="89">87342</text><text class="c3" x="718.5" y="101.5">12.48%</text>
<text class="c1" x="958.5" y="76.5">216</text><text class="c2" x="958.5" y="89">89934</text><text class="c3" x="958.5" y="101.5">0.00%</text>
</g>

<g id="row-25" transform="translate(0,3696)">
<use href="#M4"/>
<use href="#R" x="0" y="15"/><use href="#Y" x="30" y="30"/><use href="#Y" x="60" y="30"/><use href="#Y" x="90" y="30"/><use href="#Y" x="120" y="30"/><use href="#G" x="180" y="0"/><use href="#R" x="210" y="15"/><use href="#Y" x="240" y="30"/><use href="#Y" x="300" y="30"/><use href="#R" x="360" y="15"/>
<use href="#pF"/>
<text class="mn" x="1" y="-7.5">97</text><text class="mn" x="241" y="-7.5">98</text><text class="mn" x="481" y="-7.5">99</text><text class="mn" x="721" y="-7.5">100</text>
<text class="c1" x="238.5" y="76.5">252</text><text class="c2" x="238.5" y="89">91662</text><text class="c3" x="238.5" y="101.5">0.00%</text>
<text class="c1" x="478.5" y="76.5">108</text><text class="c2" x="478.5" y="89">92310</text><text class="c3" x="478.5" y="101.5">0.00%</text>
<text class="c1" x="718.5" y="76.5">252</text><text class="c2" x="718.5" y="89">93822</text><text class="c3" x="718.5" y="101.5">0.00%</text>
<text class="c1" x="958.5" y="76.5">216</text><text class="c2" x="958.5" y="89">95118</text><text class="c3" x="958.5" y="101.5">0.00%</text>
</g>

<g id="row-26" transform="translate(0,3850)">
<use href="#M4"/>
<use href="#R" x="0" y="15"/><use href="#B" x="30" y="45"/><use href="#B" x="60" y="45"/><use href="#B" x="90" y="45"/><use href="#B" x="120" y="45"/><use href="#G" x="180" y="0"/><use href="#R" x="210" y="15"/>
<use href="#sB" x="240" y="45"/><use href="#sB" x="300" y="45"/><use href="#sY" x="360" y="30"/>
<rect class="sp" x="240" y="0" width="120" height="60"/>
<use href="#pF"/>
<rect class="so" x="480" y="0" width="480" height="60"/><path class="en" d="M960 0V60"/>
<text class="mn" x="1" y="-7.5">101</text><text class="mn" x="241" y="-7.5">102</text><text class="mn" x="481" y="-7.5">103</text><text class="mn" x="721" y="-7.5">104</text>
<text class="c1" x="238.5" y="76.5">252</text><text class="c2" x="238.5" y="89">96630</text><text class="c3" x="238.5" y="101.5">0.00%</text>
<text class="c1" x="478.5" y="76.5">108</text><text class="c2" x="478.5" y="89">97494</text><text class="c3" x="478.5" y="101.5">24.98%</text>
<text class="c1" x="718.5" y="76.5">252</text><text class="c2" x="718.5" y="89">100302</text><text class="c3" x="718.5" y="101.5">12.48%</text>
<text class="c1" x="958.5" y="76.5">216</text><text class="c2" x="958.5" y="89">102894</text><text class="c3" x="958.5" y="101.5">0.00%</text>
</g>

<g id="row-27" transform="translate(0,4004)">
<use href="#M4"/>
<rect class="sb" x="420" y="42" width="120" height="6"/><rect class="sr" x="600" y="12" width="195" height="6"/><rect class="sy" x="840" y="27" width="45" height="6"/>
<use href="#B" x="0" y="45"/><use href="#B" x="30" y="45"/><use href="#B" x="60" y="45"/><use href="#B" x="90" y="45"/><use href="#B" x="120" y="45"/><use href="#Y" x="180" y="30"/><use href="#B" x="300" y="45"/><use href="#O" x="360" y="60"/><use href="#B" x="420" y="45"/><use href="#B" x="555" y="45"/><use href="#B" x="570" y="45"/><use href="#R" x="600" y="15"/><use href="#Y" x="810" y="30"/><use href="#Y" x="840" y="30"/><use href="#R" x="900" y="15"/>
<text class="mn" x="1" y="-7.5">105</text><text class="mn" x="241" y="-7.5">106</text><text class="mn" x="481" y="-7.5">107</text><text class="mn" x="721" y="-7.5">108</text>
<text class="c1" x="238.5" y="76.5">216</text><text class="c2" x="238.5" y="89">104406</text><text class="c3" x="238.5" y="101.5">0.00%</text>
<text class="c1" x="478.5" y="76.5">120</text><text class="c2" x="478.5" y="89">105126</text><text class="c3" x="478.5" y="101.5">0.00%</text>
<text class="c1" x="718.5" y="76.5">144</text><text class="c2" x="718.5" y="89">105990</text><text class="c3" x="718.5" y="101.5">0.00%</text>
<text class="c1" x="958.5" y="76.5">132</text><text class="c2" x="958.5" y="89">106782</text><text class="c3" x="958.5" y="101.5">0.00%</text>
</g>

<g id="row-28" transform="translate(0,4158)">
<use href="#M4"/>
<rect class="sy" x="360" y="27" width="45" height="6"/><rect class="sr" x="420" y="12" width="45" height="6"/><rect class="sb" x="690" y="42" width="90" height="6"/>
<use href="#B" x="0" y="45"/><use href="#O" x="30" y="60"/><use href="#B" x="60" y="45"/><use href="#Y" x="90" y="30"/><use href="#B" x="120" y="45"/><use href="#Y" x="180" y="30"/><use href="#B" x="330" y="45"/><use href="#Y" x="360" y="30"/><use href="#R" x="420" y="15"/>
<use href="#sG" x="480" y="0"/><use href="#sR" x="510" y="15"/><use href="#sY" x="570" y="30"/><use href="#sO" x="630" y="60"/><use href="#sB" x="690" y="45"/><use href="#sG" x="810" y="0"/>
<use href="#R" x="840" y="15"/><use href="#Y" x="900" y="30"/>
<rect class="sp" x="480" y="0" width="330" height="60"/>
<text class="mn" x="1" y="-7.5">109</text><text class="mn" x="241" y="-7.5">110</text><text class="mn" x="481" y="-7.5">111</text><text class="mn" x="721" y="-7.5">112</text>
<text class="c1" x="238.5" y="76.5">216</text><text class="c2" x="238.5" y="89">108078</text><text class="c3" x="238.5" y="101.5">0.00%</text>
<text class="c1" x="478.5" y="76.5">126</text><text class="c2" x="478.5" y="89">108834</text><text class="c3" x="478.5" y="101.5">0.00%</text>
<text class="c1" x="718.5" y="76.5">186</text><text class="c2" x="718.5" y="89">109950</text><text class="c3" x="718.5" y="101.5">0.00%</text>
<text class="c1" x="958.5" y="76.5">120</text><text class="c2" x="958.5" y="89">110670</text><text class="c3" x="958.5" y="101.5">25.00%</text>
</g>

<g id="row-29" transform="translate(0,4312)">
<use href="#M4"/><use href="#pI"/>
<rect class="sy" x="330" y="27" width="45" height="6"/><rect class="sy" x="840" y="27" width="45" height="6"/>
<use href="#Y" x="330" y="30"/><use href="#B" x="480" y="45"/><use href="#O" x="510" y="60"/><use href="#B" x="540" y="45"/><use href="#Y" x="570" y="30"/><use href="#B" x="600" y="45"/><use href="#Y" x="660" y="30"/><use href="#Y" x="840" y="30"/><use href="#R" x="900" y="15"/>
<path class="st" d="M960 0V60"/>
<text class="mn" x="1" y="-7.5">113</text><text class="mn" x="241" y="-7.5">114</text><text class="mn" x="481" y="-7.5">115</text><text class="mn" x="721" y="-7.5">116</text>
<text class="c1" x="238.5" y="76.5">186</text><text class="c2" x="238.5" y="89">111786</text><text class="c3" x="238.5" y="101.5">25.00%</text>
<text class="c1" x="478.5" y="76.5">57</text><text class="c2" x="478.5" y="89">112128</text><text class="c3" x="478.5" y="101.5">25.00%</text>
<text class="c1" x="718.5" y="76.5">216</text><text class="c2" x="718.5" y="89">113424</text><text class="c3" x="718.5" y="101.5">25.00%</text>
<text class="c1" x="958.5" y="76.5">81</text><text class="c2" x="958.5" y="89">113910</text><text class="c3" x="958.5" y="101.5">24.98%</text>
</g>

<g id="row-30" transform="translate(0,4466)">
<use href="#M4"/>
<rect class="sy" x="360" y="27" width="45" height="6"/><rect class="sr" x="420" y="12" width="45" height="6"/><rect class="sb" x="690" y="42" width="90" height="6"/>
<use href="#B" x="0" y="45"/><use href="#O" x="30" y="60"/><use href="#B" x="60" y="45"/><use href="#Y" x="90" y="30"/><use href="#B" x="120" y="45"/><use href="#Y" x="180" y="30"/><use href="#B" x="330" y="45"/><use href="#Y" x="360" y="30"/><use href="#R" x="420" y="15"/><use href="#G" x="480" y="0"/><use href="#R" x="510" y="15"/><use href="#Y" x="570" y="30"/><use href="#O" x="630" y="60"/><use href="#B" x="690" y="45"/><use href="#Y" x="810" y="30"/><use href="#O" x="840" y="60"/><use href="#B" x="900" y="45"/>
<rect class="so" x="0" y="0" width="480" height="60"/>
<text class="mn" x="1" y="-7.5">117</text><text class="mn" x="241" y="-7.5">118</text><text class="mn" x="481" y="-7.5">119</text><text class="mn" x="721" y="-7.5">120</text>
<text class="c1" x="238.5" y="76.5">216</text><text class="c2" x="238.5" y="89">116502</text><text class="c3" x="238.5" y="101.5">12.48%</text>
<text class="c1" x="478.5" y="76.5">126</text><text class="c2" x="478.5" y="89">118014</text><text class="c3" x="478.5" y="101.5">0.00%</text>
<text class="c1" x="718.5" y="76.5">186</text><text class="c2" x="718.5" y="89">119346</text><text class="c3" x="718.5" y="101.5">0.00%</text>
<text class="c1" x="958.5" y="76.5">120</text><text class="c2" x="958.5" y="89">120066</text><text class="c3" x="958.5" y="101.5">0.00%</text>
</g>

<g id="row-31" transform="translate(0,4620)">
<use href="#M4"/><use href="#pG"/>
<text class="mn" x="1" y="-7.5">121</text><text class="mn" x="241" y="-7.5">122</text><text class="mn" x="481" y="-7.5">123</text><text class="mn" x="721" y="-7.5">124</text>
<text class="c1" x="238.5" y="76.5">186</text><text class="c2" x="238.5" y="89">121182</text><text class="c3" x="238.5" y="101.5">0.00%</text>
<text class="c1" x="478.5" y="76.5">138</text><text class="c2" x="478.5" y="89">122010</text><text class="c3" x="478.5" y="101.5">0.00%</text>
<text class="c1" x="718.5" y="76.5">186</text><text class="c2" x="718.5" y="89">123126</text><text class="c3" x="718.5" y="101.5">0.00%</text>
<text class="c1" x="958.5" y="76.5">60</text><text class="c2" x="958.5" y="89">123486</text><text class="c3" x="958.5" y="101.5">0.00%</text>
</g>

<g id="row-32" transform="translate(0,4774)">
<use href="#M4"/><use href="#pG"/>
<text class="mn" x="1" y="-7.5">125</text><text class="mn" x="241" y="-7.5">126</text><text class="mn" x="481" y="-7.5">127</text><text class="mn" x="721" y="-7.5">128</text>
<text class="c1" x="238.5" y="76.5">186</text><text class="c2" x="238.5" y="89">124602</text><text class="c3" x="238.5" y="101.5">0.00%</text>
<text class="c1" x="478.5" y="76.5">138</text><text class="c2" x="478.5" y="89">125430</text><text class="c3" x="478.5" y="101.5">0.00%</text>
<text class="c1" x="718.5" y="76.5">186</text><text class="c2" x="718.5" y="89">126546</text><text class="c3" x="718.5" y="101.5">0.00%</text>
<text class="c1" x="958.5" y="76.5">60</text><text class="c2" x="958.5" y="89">126906</text><text class="c3" x="958.5" y="101.5">0.00%</text>
</g>

<g id="row-33" transform="translate(0,4928)">
<use href="#M2"/><use href="#pI"/>
<rect class="sy" x="330" y="27" width="45" height="6"/><use href="#Y" x="330" y="30"/>
<text class="mn" x="1" y="-7.5">129</text><text class="mn" x="241" y="-7.5">130</text>
<text class="c1" x="238.5" y="76.5">186</text><text class="c2" x="238.5" y="89">128022</text><text class="c3" x="238.5" y="101.5">0.00%</text>
<text class="c1" x="478.5" y="76.5">57</text><text class="c2" x="478.5" y="89">128364</text><text class="c3" x="478.5" y="101.5">0.00%</text>
</g>

</g>
</g>
</svg>
